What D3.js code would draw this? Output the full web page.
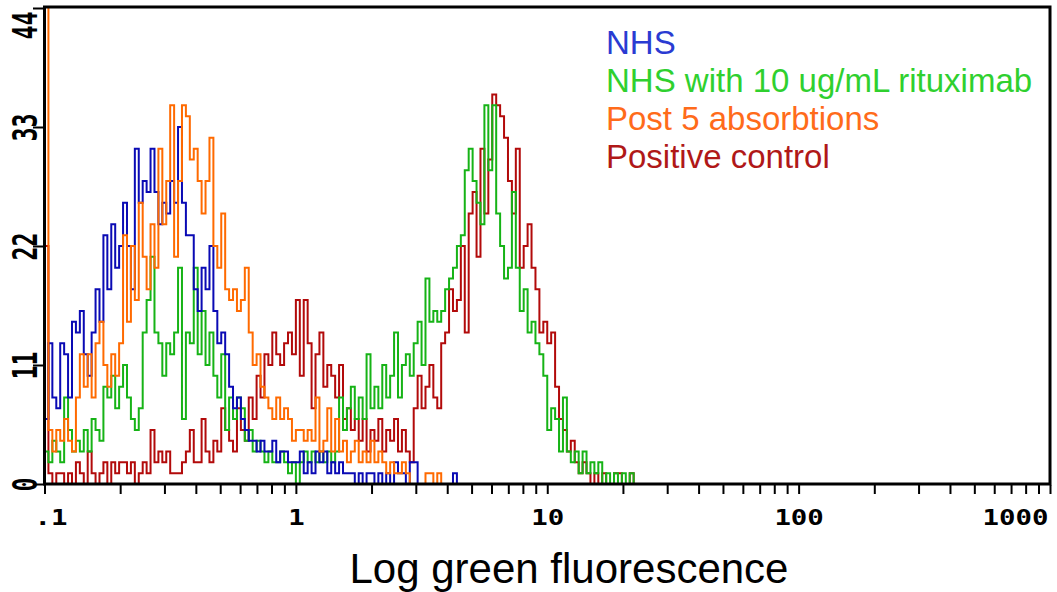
<!DOCTYPE html>
<html>
<head>
<meta charset="utf-8">
<style>
  body { margin: 0; background: #fff; }
  svg { display: block; }
  .axis text {
    font-family: "DejaVu Sans Mono", monospace;
    font-weight: bold;
    fill: #000;
  }
  .axis line { stroke: #000; stroke-width: 2; }
  .legend text, .title {
    font-family: "Liberation Sans", Arial, sans-serif;
  }
  .hist { fill: none; stroke-width: 2; stroke-linejoin: miter; }
</style>
<script src="https://d3js.org/d3.v7.min.js"></script>
</head>
<body>
<svg width="1057" height="592"></svg>
<script>

// 256 channels over 4 log decades (.1 to 1000); counts read channel by channel
var channelsPerDecade = 64;

var nhs = [6,13,8,7,13,12,8,15,14,16, 12,10,14,18,15,23,18,24,20,22,
  26,22,18,31,26,28,27,31,27,24, 26,25,28,26,33,26,23,23,18,16,
  20,18,22,16,13,14,12,9,7,8, 6,5,4,4,3,4,3,3,4,2,
  3,3,2,2,2,3,1,2,1,3, 2,3,1,2,1,2,1,1,1,0,
  1,0,1,1,0,1,0,1,0,2, 1,1,0,2,2,0,0,0,0,0,
  0,0,0,0,1];

var nhsRituximab = [3,2,4,3,2,8,5,3,4,3, 5,3,6,5,4,9,8,10,7,9,
  11,8,6,5,7,14,17,21,14,13, 10,13,12,14,20,6,14,13,20,12,
  16,11,14,10,8,12,5,8,6,8, 7,4,5,3,4,3,2,3,2,2,
  3,2,1,2,0,2,3,2,3,2, 3,2,3,2,3,8,5,7,9,6,
  8,6,12,7,9,7,11,8,10,14, 8,11,12,10,13,15,11,19,15,16,
  15,16,18,19,20,22,23,29,31,28, 26,24,35,29,35,25,22,19,20,27,
  20,16,18,14,15,13,12,10,5,7, 6,3,8,3,2,3,1,3,1,2,
  1,2,0,1,0,1,0,1,0,1];

var post5 = [46,5,3,5,4,6,4,3,8,12, 9,12,8,13,15,11,9,12,10,13,
  23,15,22,17,26,21,18,24,20,31, 24,28,35,21,28,35,34,30,31,28,
  25,28,32,22,20,25,18,17,18,16, 17,20,14,11,12,9,8,7,6,8,
  6,7,6,4,5,5,4,5,4,8, 3,4,7,3,6,3,4,2,3,4,
  2,3,2,4,2,3,2,1,2,1, 1,2,1,0,0,0,0,1,1,0,
  1];

var positiveControl = [22,1,0,1,1,0,1,0,2,1, 0,3,1,0,1,2,0,2,1,2,
  2,1,2,0,1,2,1,5,2,3, 2,3,1,1,1,2,3,5,2,2,
  6,3,2,4,3,7,5,4,3,7, 5,4,8,6,10,8,12,11,14,12,
  11,13,14,12,17,10,17,13,7,12, 14,9,11,10,8,11,6,7,5,6,
  4,6,3,5,4,6,3,5,4,6, 3,5,3,2,7,10,7,9,11,8,
  7,13,14,18,16,17,22,14,25,27, 21,31,25,30,36,35,34,32,28,25,
  31,20,22,24,20,18,14,15,13,14, 9,6,5,3,4,2,1,2,1,0,
  1,0,1,0,0,1,1,0,0,1];

var seriesNames = ["NHS", "NHS with 10 ug/mL rituximab", "Post 5 absorbtions", "Positive control"];
var lineColors = ["#0a0ab4", "#16b316", "#ff6a00", "#b20a0a"];
var textColors = ["#2a3bd2", "#2fd02f", "#ff6b1a", "#b01818"];

var xTickLabels = [".1", "1", "10", "100", "1000"];
var yTicks = [0, 11, 22, 33, 44];

var svg = d3.select("svg");

var x = d3.scaleLog().domain([0.1, 1000]).range([44.5, 1050]);
var y = d3.scaleLinear().domain([0, 44]).range([484, 8]);

function edge(i) { return 0.1 * Math.pow(10, i / channelsPerDecade); }

svg.append("clipPath").attr("id", "plot")
  .append("rect").attr("x", 44).attr("y", 8).attr("width", 1006).attr("height", 476);

var line = d3.line()
  .x(function(d) { return x(d[0]); })
  .y(function(d) { return y(d[1]); })
  .curve(d3.curveStepAfter);

function points(values, toEnd) {
  var pts = [[edge(0), 0]];
  values.forEach(function(v, i) { pts.push([edge(i), v]); });
  pts.push([edge(values.length), values[values.length - 1]]);
  pts.push([edge(values.length), 0]);
  if (toEnd) pts.push([1000, 0]);
  return pts;
}

// draw order: red, green, blue, orange on top
var drawOrder = [
  { data: positiveControl, color: lineColors[3] },
  { data: nhsRituximab, color: lineColors[1] },
  { data: nhs, color: lineColors[0] },
  { data: post5, color: lineColors[2], toEnd: true }
];

var g = svg.append("g").attr("clip-path", "url(#plot)");
drawOrder.forEach(function(s) {
  g.append("path")
    .attr("class", "hist")
    .attr("stroke", s.color)
    .attr("d", line(points(s.data, s.toEnd)));
});

// x axis
var xAxis = svg.append("g")
  .attr("class", "axis")
  .attr("transform", "translate(0,485)")
  .call(d3.axisBottom(x).tickValues(x.ticks()).tickSize(9).tickPadding(12)
    .tickFormat(function(d) {
      var k = Math.round(Math.log10(d) + 1);
      return Math.abs(Math.log10(d) - Math.round(Math.log10(d))) < 1e-9 ? xTickLabels[k] : "";
    }));
xAxis.select(".domain").remove();
xAxis.selectAll("text")
  .style("font-size", "21px")
  .attr("dy", "0.9em")
  .each(function() {
    var t = d3.select(this), s = t.text();
    if (!s) return;
    t.attr("textLength", s.length * 16.5).attr("lengthAdjust", "spacingAndGlyphs");
    if (s === ".1") t.attr("x", 6);
    if (s === "1000") t.attr("text-anchor", "end").attr("x", -2);
  });

// y axis, labels rotated to read bottom-up
var yAxis = svg.append("g")
  .attr("class", "axis")
  .attr("transform", "translate(44,0)")
  .call(d3.axisLeft(y).tickValues(yTicks).tickSize(11).tickFormat(""));
yAxis.select(".domain").remove();
yAxis.selectAll(".tick").append("text")
  .attr("text-anchor", "middle")
  .attr("transform", function(d) { return "translate(-7," + (d === 44 ? 17 : 0) + ") rotate(-90)"; })
  .style("font-size", "33px")
  .attr("textLength", function(d) { return String(d).length * 14; })
  .attr("lengthAdjust", "spacingAndGlyphs")
  .text(function(d) { return d; });

// frame
svg.append("rect")
  .attr("x", 44.5).attr("y", 7)
  .attr("width", 1005.5).attr("height", 477)
  .attr("fill", "none").attr("stroke", "#000").attr("stroke-width", 3);

// legend
var legend = svg.append("g").attr("class", "legend");
seriesNames.forEach(function(name, i) {
  legend.append("text")
    .attr("x", 606).attr("y", 54 + i * 38)
    .attr("fill", textColors[i])
    .style("font-size", "33px")
    .text(name);
});

svg.append("text")
  .attr("class", "title")
  .attr("x", 569).attr("y", 583)
  .attr("text-anchor", "middle")
  .style("font-size", "42px")
  .attr("fill", "#000")
  .text("Log green fluorescence");

</script>
</body>
</html>
